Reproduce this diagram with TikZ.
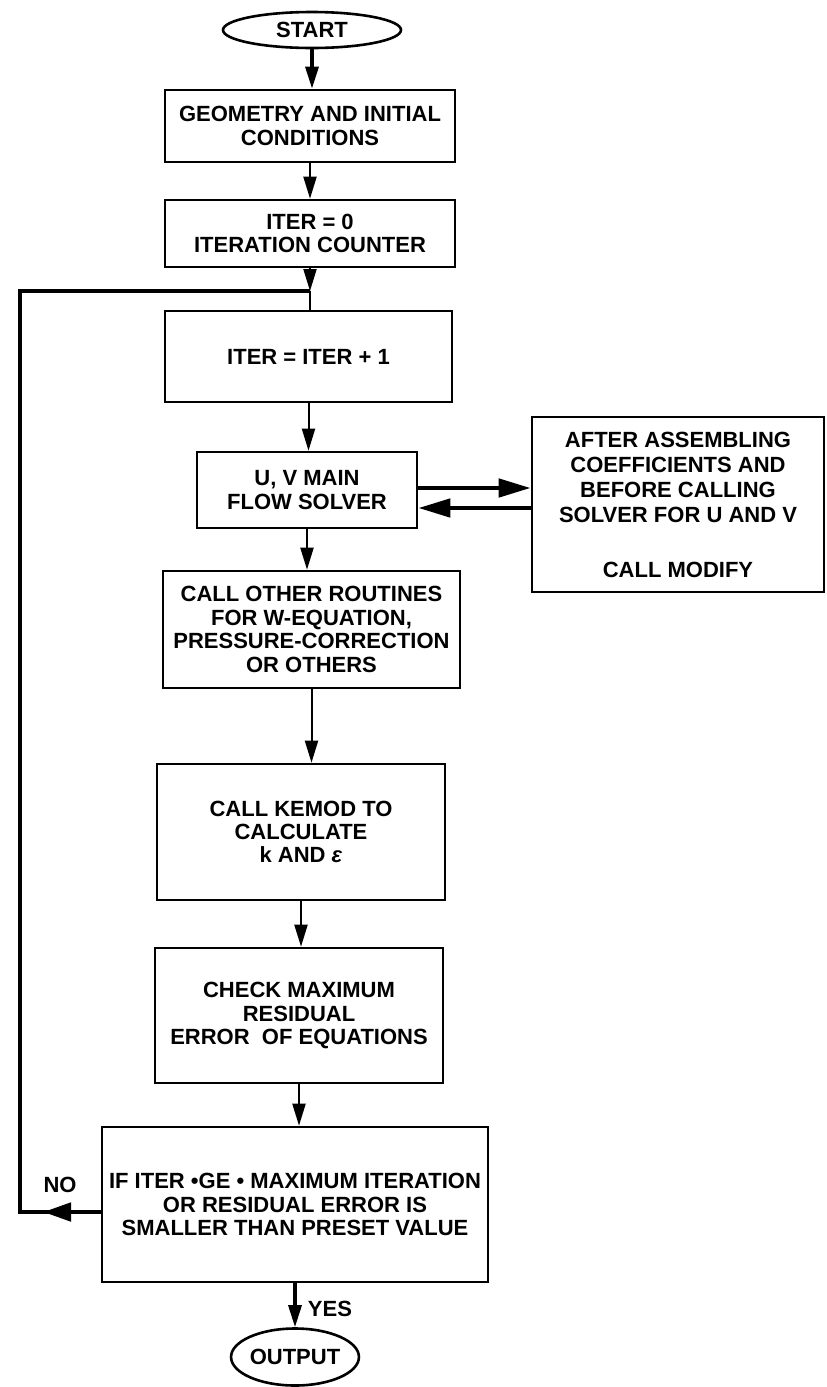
\documentclass[tikz,border=0pt]{standalone}
\usepackage{fontspec}
\setmainfont{Liberation Sans}
\usetikzlibrary{shapes.geometric, arrows.meta}

\begin{document}
\begin{tikzpicture}[x=0.5pt, y=-0.5pt, line width=1.3pt,
  font=\fontsize{11}{11.7}\selectfont\bfseries,
  box/.style = {draw, rectangle, align=center, inner sep=0pt},
  term/.style = {draw, ellipse, inner sep=0pt},
  arr/.style = {-{Triangle[length=11pt, width=6.5pt]}, line width=1pt},
  fat/.style = {-{Triangle[length=16pt, width=9pt]}, line width=2.3pt}]
\useasboundingbox (0,0) rectangle (826,1387);
\node[term, minimum width=89pt, minimum height=18pt] (start) at (312,30) {START};
\node[box, minimum width=145pt, minimum height=36pt] (geom) at (310,126) {GEOMETRY AND INITIAL\\CONDITIONS};
\node[box, minimum width=145pt, minimum height=33.5pt] (iter0) at (310,233.5) {ITER = 0\\ITERATION COUNTER};
\node[box, minimum width=143.5pt, minimum height=45.5pt] (iter1) at (308.5,356.5) {ITER = ITER + 1};
\node[box, minimum width=110pt, minimum height=38pt] (uv) at (307,490) {U, V MAIN\\FLOW SOLVER};
\node[box, minimum width=146pt, minimum height=87.5pt, font=\fontsize{11}{12.5}\selectfont\bfseries] (modify) at (678,504.5) {AFTER ASSEMBLING\\COEFFICIENTS AND\\BEFORE CALLING\\SOLVER FOR U AND V\\[15pt]CALL MODIFY};
\node[box, minimum width=148.5pt, minimum height=58.5pt] (other) at (311.5,629.5) {CALL OTHER ROUTINES\\FOR W-EQUATION,\\PRESSURE-CORRECTION\\OR OTHERS};
\node[box, minimum width=144pt, minimum height=68pt] (kemod) at (301,832) {CALL KEMOD TO\\CALCULATE\\k AND \textit{ε}};
\node[box, minimum width=144pt, minimum height=67.5pt] (check) at (299,1015.5) {CHECK MAXIMUM\\RESIDUAL\\ERROR\ \ OF EQUATIONS};
\node[box, minimum width=193pt, minimum height=77.5pt] (decide) at (295,1204.5) {IF ITER •GE • MAXIMUM ITERATION\\OR RESIDUAL ERROR IS\\SMALLER THAN PRESET VALUE};
\node[term, minimum width=61.5pt, minimum height=28.5pt] (output) at (295,1357) {OUTPUT};
\node (no) at (60,1185) {NO};
\node (yes) at (330,1309) {YES};

\coordinate (join) at (310,291);
\coordinate (loopt) at (20,291);
\coordinate (loopb) at (20,1212);
\coordinate (notip) at (43,1212);
\coordinate (uvtop) at ([yshift=1pt]uv.east);
\coordinate (uvbot) at ([yshift=-9pt]uv.east);

\draw[arr, line width=1.6pt] (start) -- (start |- geom.north);
\draw[arr] (geom) -- (geom |- iter0.north);
\draw[arr] (iter0) -- (join);
\draw (join) -- (join |- iter1.north);
\draw[arr] (iter1) -- (iter1 |- uv.north);
\draw[arr] (uv) -- (uv |- other.north);
\draw[arr] (other) -- (other |- kemod.north);
\draw[arr] (kemod) -- (kemod |- check.north);
\draw[arr] (check) -- (check |- decide.north);
\draw[arr, line width=1.6pt] (decide) -- (decide |- output.north);
\draw[fat] (uvtop) -- (uvtop -| modify.west);
\draw[fat] (uvbot -| modify.west) -- (uvbot);
\draw[line width=2.4pt] (decide.west |- loopb) -- (loopb) -- (loopt) -- (join);
\draw[-{Triangle[length=14pt, width=9pt]}, line width=2.4pt] (decide.west |- loopb) -- (notip);
\end{tikzpicture}
\end{document}
